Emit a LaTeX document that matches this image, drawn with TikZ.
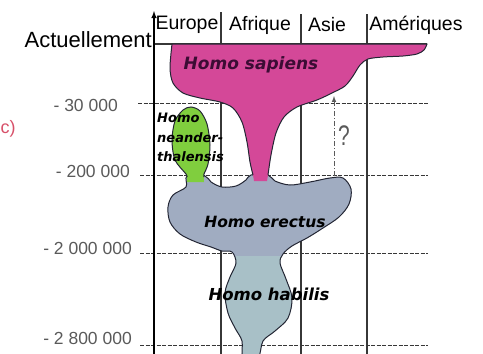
\documentclass[tikz,border=0pt]{standalone}
\usepackage{fontspec}
\setmainfont{Liberation Sans}
\newfontfamily\speciesfont{DejaVu Sans}
\usetikzlibrary{arrows, positioning}
\definecolor{sapiens}{RGB}{212,72,152}
\definecolor{neander}{RGB}{128,206,62}
\definecolor{erectus}{RGB}{160,172,193}
\definecolor{habilis}{RGB}{168,192,199}
\definecolor{outline}{RGB}{35,38,52}
\definecolor{gridgray}{RGB}{55,55,55}
\definecolor{labelgray}{RGB}{90,90,90}
\definecolor{partred}{RGB}{215,80,105}
\tikzset{
  gridline/.style={draw=gridgray, line width=1.1pt}, % column borders
  timeline/.style={draw=gridgray, line width=0.9pt, dash pattern=on 4pt off 1.5pt},
  region/.style={font=\fontsize{19.5}{22}\selectfont, inner sep=0pt},
  datelbl/.style={font=\fontsize{17.5}{20}\selectfont, text=labelgray, anchor=east, inner sep=0pt},
  species/.style={font=\speciesfont\bfseries\itshape\fontsize{16}{19}\selectfont, inner sep=0pt},
  blob/.style={draw=outline, line width=1pt},
}

\begin{document}
\begin{tikzpicture}[x=1pt, y=-1pt, >=latex]
    \useasboundingbox (0,0) rectangle (483,354);

    \node[text=partred, anchor=west, inner sep=0pt,
      font=\fontsize{18}{20}\selectfont] (part) at (0.5,129) {c)};

    % grid
    \coordinate (axisbot) at (154,356);
    \coordinate (axistop) at (154,11);
    \coordinate (eutop) at (221,12);
    \coordinate (eubot) at (221,356);
    \coordinate (aftop) at (301,14);
    \coordinate (afbot) at (301,356);
    \coordinate (astop) at (367,14);
    \coordinate (asbot) at (367,356);
    \coordinate (nowa) at (154,44);
    \coordinate (nowb) at (427,44);
    \coordinate (t1a) at (138,103);
    \coordinate (t1b) at (428,103);
    \coordinate (t2a) at (140,175);
    \coordinate (t2b) at (428,175);
    \coordinate (t3a) at (140,253);
    \coordinate (t3b) at (428,253);
    \coordinate (t4a) at (140,345);
    \coordinate (t4b) at (428,345);

    \draw[gridline]
    (eubot) -- (eutop)
    (afbot) -- (aftop)
    (asbot) -- (astop)
    (nowa) -- (nowb);
    \draw[timeline]
    (t1a) -- (t1b)
    (t2a) -- (t2b)
    (t3a) -- (t3b)
    (t4a) -- (t4b);
    \draw[gridline, line width=1.4pt, black, ->] (axisbot) -- (axistop);

    \node[region, anchor=east, font=\fontsize{22}{24}\selectfont] (now) at (152,40) {Actuellement};
    \node[region] (europe) at (187,25) {Europe};
    \node[region] (afrique) at (260,25) {Afrique};
    \node[region] (asie) at (327,25) {Asie};
    \node[region] (amer) at (416,25) {Amériques};

    \node[datelbl] (d1) at (118,105) {- 30 000};
    \node[datelbl] (d2) at (130,171) {- 200 000};
    \node[datelbl] (d3) at (132,248) {- 2 000 000};
    \node[datelbl] (d4) at (132,338) {- 2 800 000};

    % Homo erectus + Homo habilis
    \path[save path=\erectuspath] plot[smooth cycle, tension=0.55] coordinates {
      (187,176) (205,176) (211,182) (222,187) (236,186) (246,180) (251,175)
      (268,175) (275,181) (290,185) (310,182) (330,178) (343,178) (351,189)
      (349,204) (339,217) (323,228) (307,238) (292,246) (283,254)
      (280,263) (286,279) (292,298) (288,318) (275,331) (263,341) (258,358)
      (243,358) (242,341) (235,328) (228,313) (225,293) (230,277) (236,263) (232,252)
      (222,251) (211,247) (196,242) (180,234) (170,222) (168,207) (173,195) (186,187)};
    \fill[erectus, use path=\erectuspath];
    \begin{scope}
      \clip[use path=\erectuspath];
      \fill[habilis] (0,256) rectangle (483,360);
    \end{scope}
    \draw[blob, use path=\erectuspath];

    % Homo neanderthalensis
    \fill[neander] plot[smooth] coordinates {(187,182) (186,174) (175,160) (172,140) (175,121)
      (183,110) (191,107) (200,111) (207,124) (210,145) (208,164) (204,174) (204,182)} -- cycle;
    \draw[blob] plot[smooth] coordinates {(187,177) (186,174) (175,160) (172,140) (175,121)
      (183,110) (191,107) (200,111) (207,124) (210,145) (208,164) (204,174) (204,177)};

    % Homo sapiens
    \fill[sapiens] plot[smooth] coordinates {(254,181) (253,175) (250,162) (247,142) (242,122)
      (233,108) (220,102) (200,98) (183,93) (173,83) (170,68) (172,44)}
    -- plot[smooth] coordinates {(427,44) (424,50) (417,54) (403,56) (383,57) (368,59)
      (360,65) (353,76) (345,86) (332,93) (317,100) (297,107) (284,117) (276,133)
      (271,155) (268,175) (267,181)} -- cycle;
    \draw[blob] plot[smooth] coordinates {(253,175) (250,162) (247,142) (242,122)
      (233,108) (220,102) (200,98) (183,93) (173,83) (170,68) (172,44)}
    -- plot[smooth] coordinates {(427,44) (424,50) (417,54) (403,56) (383,57) (368,59)
      (360,65) (353,76) (345,86) (332,93) (317,100) (297,107) (284,117) (276,133)
      (271,155) (268,175)};

    \node[species, text={rgb,255:red,60;green,12;blue,52}, font=\speciesfont\bfseries\itshape\fontsize{17}{19}\selectfont]
    (hsap) at (251,65) {Homo sapiens};
    \node[species, align=left, anchor=north west, font=\speciesfont\bfseries\itshape\fontsize{13}{19.5}\selectfont]
    (hnea) at (157,113) {Homo\\neander-\\thalensis};
    \node[species, font=\speciesfont\bfseries\itshape\fontsize{15.5}{19}\selectfont] (hera) at (265,222) {Homo erectus};
    \node[species, font=\speciesfont\bfseries\itshape\fontsize{16.5}{19}\selectfont] (hhab) at (269,294) {Homo habilis};

    % unknown migration
    \coordinate (qbot) at (334,176);
    \coordinate (qtop) at (334,96);
    \draw[draw=labelgray, line width=1pt, dash pattern=on 5pt off 2pt on 1pt off 2pt, ->] (qbot) -- (qtop);
    \coordinate (qmid) at (334,136);
    \node[text=labelgray, inner sep=0pt, right=4pt of qmid, font=\fontsize{21}{24}\selectfont] (qmark) {\scalebox{1}[1.35]{?}};
  \end{tikzpicture}
\end{document}
